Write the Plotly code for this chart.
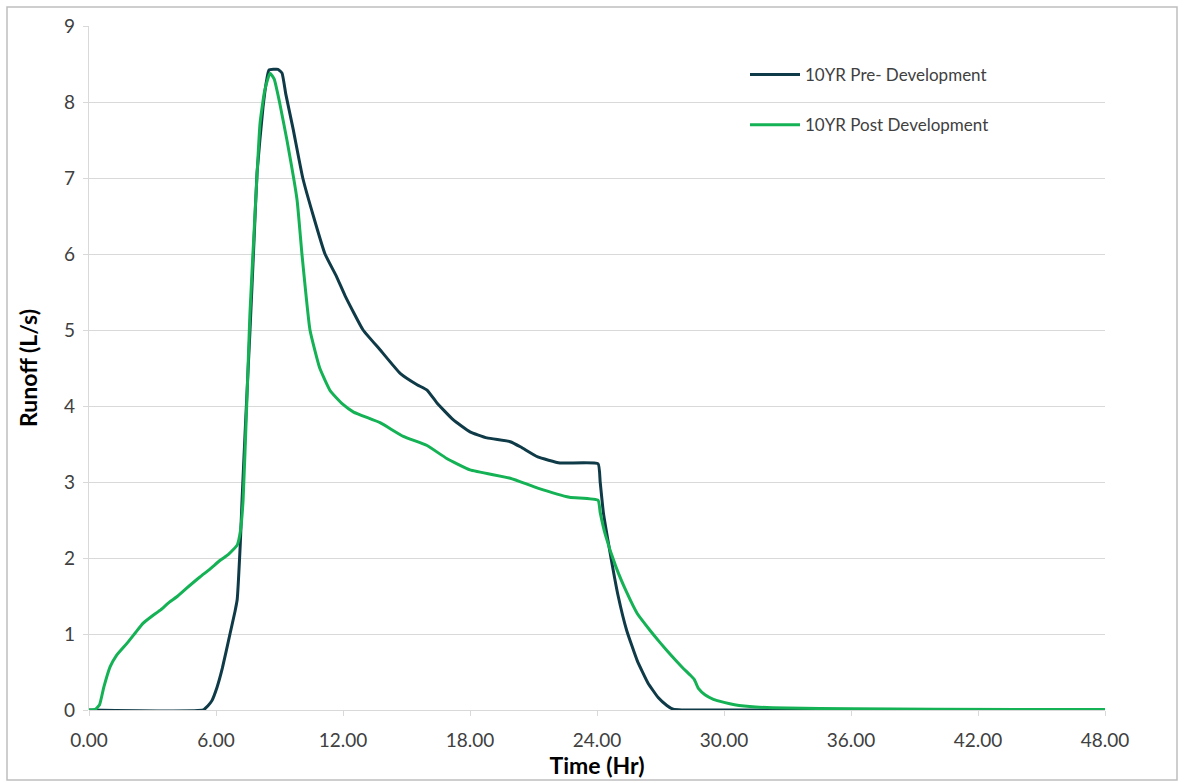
import plotly.graph_objects as go

# Time (hr) and runoff (L/s)
pre_time = [0, 5.4, 5.6, 5.8, 6.05, 6.3, 6.66, 6.9, 7.0, 7.15, 7.23, 7.4, 7.6, 7.8, 7.94, 8.22,
            8.4, 8.5, 8.93, 9.12, 9.3, 9.64, 10.1, 10.6, 11.15, 11.7, 12.1, 12.95, 13.75, 14.7,
            15.5, 15.97, 16.44, 17.2, 18.0, 18.8, 19.9, 20.4, 21.2, 22.25, 24.05, 24.15, 24.3,
            24.6, 25.0, 25.4, 25.9, 26.4, 26.9, 27.3, 27.6, 28.0, 48.0]
pre_runoff = [0, 0, 0.05, 0.12, 0.3, 0.55, 1.0, 1.3, 1.45, 2.2, 2.76, 3.8, 4.96, 6.2, 7.07, 7.93,
              8.3, 8.42, 8.43, 8.38, 8.1, 7.65, 7.0, 6.5, 6.0, 5.7, 5.45, 5.0, 4.74, 4.43,
              4.28, 4.21, 4.04, 3.82, 3.66, 3.58, 3.53, 3.46, 3.33, 3.25, 3.24, 3.0, 2.6,
              2.1, 1.5, 1.05, 0.65, 0.36, 0.16, 0.06, 0.01, 0, 0]

post_time = [0, 0.3, 0.5, 0.7, 1.0, 1.3, 1.8, 2.2, 2.55, 3.0, 3.35, 3.8, 4.15, 4.6, 5.24, 5.7,
             6.2, 6.6, 7.0, 7.15, 7.28, 7.45, 7.6, 7.8, 8.08, 8.3, 8.55, 8.75, 9.0, 9.35, 9.83,
             10.06, 10.44, 10.9, 11.4, 12.0, 12.5, 13.75, 14.85, 15.97, 16.9, 18.0, 19.9, 21.2,
             22.7, 24.05, 24.15, 24.4, 24.9, 25.4, 25.9, 26.5, 27.0, 27.5, 28.0, 28.4, 28.6,
             28.8, 29.1, 29.5, 30.0, 30.5, 31.5, 33.0, 36.0, 40.0, 48.0]
post_runoff = [0, 0.01, 0.07, 0.3, 0.57, 0.72, 0.88, 1.02, 1.14, 1.24, 1.31, 1.42, 1.49, 1.6,
               1.75, 1.85, 1.97, 2.05, 2.17, 2.35, 2.76, 4.0, 5.2, 6.3, 7.72, 8.15, 8.38, 8.3,
               8.0, 7.5, 6.71, 6.0, 5.0, 4.5, 4.2, 4.02, 3.92, 3.78, 3.6, 3.48, 3.31, 3.16, 3.05,
               2.92, 2.8, 2.76, 2.6, 2.3, 1.88, 1.55, 1.27, 1.05, 0.88, 0.72, 0.57, 0.46, 0.40,
               0.28, 0.2, 0.14, 0.1, 0.07, 0.04, 0.025, 0.015, 0.01, 0.005]

x_tick_vals = [0, 6, 12, 18, 24, 30, 36, 42, 48]
x_tick_text = ["0.00", "6.00", "12.00", "18.00", "24.00", "30.00", "36.00", "42.00", "48.00"]
y_tick_vals = [0, 1, 2, 3, 4, 5, 6, 7, 8, 9]

series_names = ["10YR Pre- Development", "10YR Post Development"]
series_colors = ["#0f3a47", "#14b255"]

FONT = "Lato, 'Open Sans', sans-serif"

fig = go.Figure()
fig.add_trace(go.Scatter(x=pre_time, y=pre_runoff, mode="lines", name=series_names[0],
                         legendgroup="a", line=dict(color=series_colors[0], width=3, shape="spline", smoothing=0.4)))
fig.add_trace(go.Scatter(x=post_time, y=post_runoff, mode="lines", name=series_names[1],
                         legendgroup="b", line=dict(color=series_colors[1], width=3, shape="spline", smoothing=0.4)))

W, H = 1186, 783
L, R, T, B = 89, 81, 26, 73
pw, ph = W - L - R, H - T - B

def px2paper_x(px):
    return (px - L) / pw

def px2paper_y(py):
    return (H - B - py) / ph

fig.update_layout(
    width=W, height=H,
    margin=dict(l=L, r=R, t=T, b=B, autoexpand=False),
    paper_bgcolor="white", plot_bgcolor="white",
    font=dict(family=FONT, color="#404040"),
    showlegend=True,
    legend=dict(x=px2paper_x(745), y=px2paper_y(57), xanchor="left", yanchor="top",
                font=dict(size=17, color="#404040"), tracegroupgap=25,
                bgcolor="rgba(0,0,0,0)", itemwidth=50),
    xaxis=dict(range=[0, 48], tickvals=x_tick_vals, ticktext=x_tick_text,
               showgrid=False, zeroline=False, showline=False,
               ticks="outside", ticklen=5, tickcolor="#d9d9d9",
               ticklabelstandoff=8,
               tickfont=dict(size=19, color="#404040"),
               title=dict(text="<b>Time (Hr)</b>", font=dict(size=23, color="#000000"), standoff=2)),
    yaxis=dict(range=[0, 9], tickvals=y_tick_vals, showgrid=True, gridcolor="#d9d9d9", gridwidth=1.2,
               zeroline=True, zerolinecolor="#d9d9d9", zerolinewidth=1.2,
               showline=True, linecolor="#d9d9d9", linewidth=1.2,
               ticks="outside", ticklen=5, tickcolor="#d9d9d9",
               ticklabelstandoff=4,
               tickfont=dict(size=19, color="#404040"),
               title=dict(text="<b>Runoff (L/s)</b>", font=dict(size=23, color="#000000"), standoff=20)),
    shapes=[dict(type="rect", xref="paper", yref="paper",
                 x0=px2paper_x(7), x1=px2paper_x(1177), y0=px2paper_y(780), y1=px2paper_y(7),
                 line=dict(color="#bfbfbf", width=1.5), fillcolor="rgba(0,0,0,0)", layer="below")],
)

fig.write_html("out.html")
